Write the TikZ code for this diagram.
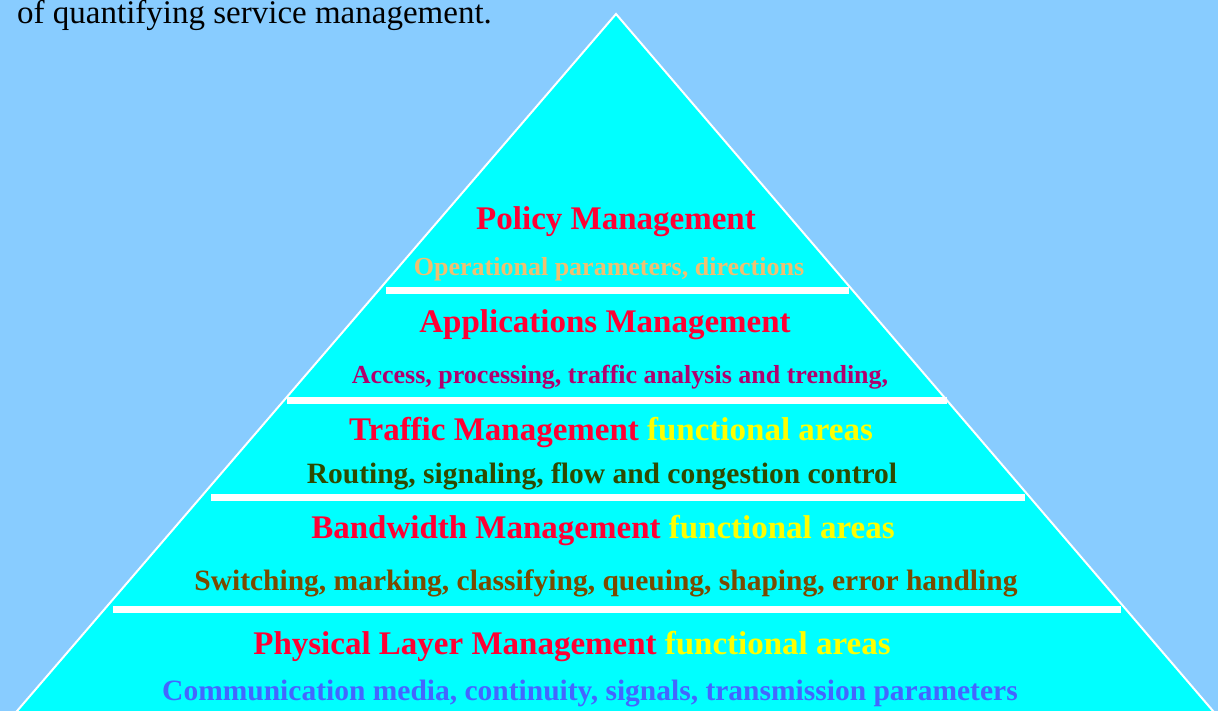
\documentclass[tikz,border=0pt]{standalone}
\usepackage{fontspec}
\setmainfont{Liberation Serif}
\usetikzlibrary{positioning}

\definecolor{skyback}{HTML}{88CCFF}
\definecolor{pyrcyan}{HTML}{00FFFF}
\definecolor{titlered}{HTML}{FF0033}
\definecolor{areayellow}{HTML}{FFFF00}
\definecolor{opertan}{HTML}{F0C070}
\definecolor{accpurple}{HTML}{B0006E}
\definecolor{routgreen}{HTML}{2E4A00}
\definecolor{switchbrown}{HTML}{7A4A00}
\definecolor{physblue}{HTML}{4466FF}

\tikzset{
  title/.style={anchor=base, inner sep=0pt, font=\fontsize{33}{36}\selectfont\bfseries, text=titlered},
  detail/.style={anchor=base, inner sep=0pt, font=\fontsize{26}{30}\selectfont\bfseries},
  bigdetail/.style={detail, font=\fontsize{29.5}{33}\selectfont\bfseries},
  layerbar/.style={fill=white, draw=none}
}

\begin{document}
\begin{tikzpicture}[x=1pt, y=-1pt]

  \newcommand\BarH{7};
  \newcommand\Areas{\color{areayellow}functional areas};

  \fill[skyback] (0,0) rectangle (1218,711); %% background
  \useasboundingbox (0,0) rectangle (1218,711);

  \node[anchor=base west, inner sep=0pt, font=\fontsize{33}{36}\selectfont]
    (intro) at (17,24) {of quantifying service management.};

  %% pyramid
  \begin{scope}
    \clip (0,0) rectangle (1218,711);
    \coordinate (apex) at (616,14);
    \coordinate (baseL) at (5,725);
    \coordinate (baseR) at (1225,725);
    \draw[white, line width=2pt, fill=pyrcyan] (apex) -- (baseL) -- (baseR) -- cycle;
  \end{scope}

  %% separators
  \fill[layerbar] (386,287) rectangle +(463,\BarH);
  \fill[layerbar] (287,397) rectangle +(660,\BarH);
  \fill[layerbar] (211,494) rectangle +(814,\BarH);
  \fill[layerbar] (113,606) rectangle +(1008,\BarH);

  %% layers
  \node[title] (policy) at (616,230) {Policy Management};
  \node[detail, text=opertan] (policyd) at (609,276) {Operational parameters, directions};

  \node[title] (appl) at (605,333) {Applications Management};
  \node[detail, text=accpurple] (appld) at (620,383) {Access, processing, traffic analysis and trending,};

  \node[title] (traffic) at (611,440) {Traffic Management \Areas};
  \node[bigdetail, text=routgreen] (trafficd) at (602,483) {Routing, signaling, flow and congestion control};

  \node[title] (bandw) at (603,538) {Bandwidth Management \Areas};
  \node[bigdetail, text=switchbrown] (bandwd) at (606,590) {Switching, marking, classifying, queuing, shaping, error handling};

  \node[title] (phys) at (572,654) {Physical Layer Management \Areas};
  \node[bigdetail, text=physblue] (physd) at (590,700) {Communication media, continuity, signals, transmission parameters};

\end{tikzpicture}
\end{document}
